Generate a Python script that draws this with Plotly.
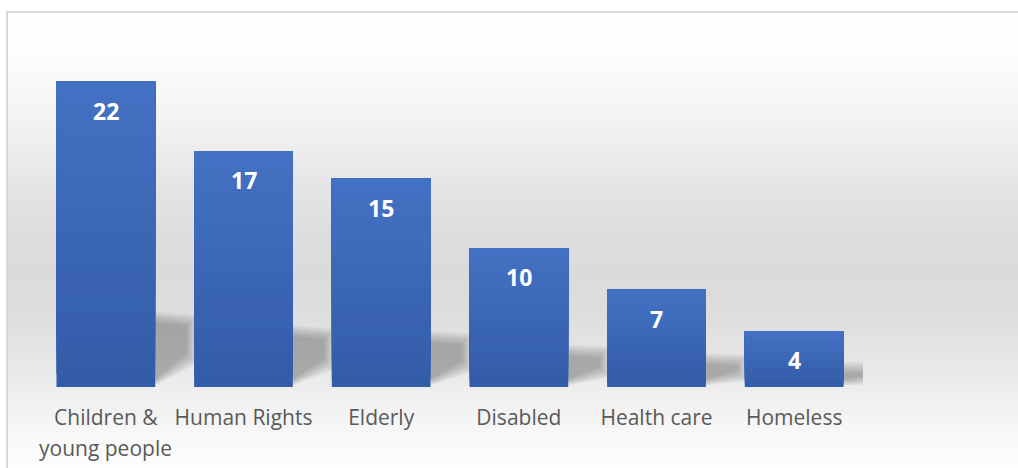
import plotly.graph_objects as go

categories = ["Children &<br>young people", "Human Rights", "Elderly", "Disabled", "Health care", "Homeless"]
values = [22, 17, 15, 10, 7, 4]

W, H = 1018, 468
L, R, T, B = 37, 155, 40, 81
PW, PH = W - L - R, H - T - B
YMAX = 25

def px_x(p):
    return (p - L) / PW

def px_y(p):
    return (H - B - p) / PH

fig = go.Figure()

# bar gradient: overlay traces, each covering from a fraction of the bar up to its top
top_c = (0x44, 0x72, 0xC4)
bot_c = (0x33, 0x5C, 0xA8)
N = 24
xs = list(range(len(categories)))
for k in range(N):
    f = k / N
    c = tuple(round(bot_c[j] + (top_c[j] - bot_c[j]) * f) for j in range(3))
    fig.add_trace(go.Bar(
        x=xs, y=[v * (1 - f) for v in values], base=[v * f for v in values],
        marker=dict(color="rgb(%d,%d,%d)" % c, line=dict(width=0)),
        width=0.717, hoverinfo="skip", showlegend=False,
    ))

shapes = []
# background gradient
stops = [(12, 255), (60, 252), (120, 243), (180, 230), (230, 222), (270, 219), (310, 221),
         (350, 228), (387, 237), (430, 247), (468, 253)]
def gray(py):
    for (a, ga), (b, gb) in zip(stops, stops[1:]):
        if a <= py <= b:
            return ga + (gb - ga) * (py - a) / (b - a)
    return 255
py = 12
while py < H:
    g = round(gray(py + 0.5))
    shapes.append(dict(type="rect", xref="paper", yref="paper", layer="below",
                       x0=px_x(7), x1=px_x(W + 10), y0=px_y(py + 1.6), y1=px_y(py),
                       fillcolor="rgb(%d,%d,%d)" % (g, g, g), line=dict(width=0)))
    py += 1

# soft cast shadows behind bars (stacked translucent layers imitate blur)
w = 0.717 / 2
gap = 1 - 0.717
for i, v in enumerate(values):
    top = 0.6 + 0.2 * v
    for k in range(14):
        d = k * 0.065
        x0 = i + w
        x1 = i + w + gap + 0.02 - k * 0.006
        path = "M %f,%f L %f,%f L %f,%f L %f,%f Z" % (
            x0, top + 0.45 - d,
            x1, top * 0.95 + 0.45 - d,
            x1, top * 0.42 - 0.45 + d,
            x0, 0.1 + d * 0.55)
        shapes.append(dict(type="path", xref="x", yref="y", layer="below", path=path,
                           fillcolor="rgba(90,90,90,0.037)", line=dict(width=0)))

# border
shapes.append(dict(type="rect", xref="paper", yref="paper", layer="above",
                   x0=px_x(7), x1=px_x(W + 10), y0=px_y(H + 10), y1=px_y(12),
                   fillcolor="rgba(0,0,0,0)", line=dict(color="#d9d9d9", width=2)))

annotations = []
for i, v in enumerate(values):
    annotations.append(dict(x=i, y=v, xref="x", yref="y", text="<b>%d</b>" % v,
                            showarrow=False, yanchor="middle", yshift=-29,
                            font=dict(family="Open Sans", size=23, color="white")))

# category labels: first line as tick label, further lines as annotations (wider line spacing)
lab_font = dict(family="Open Sans", size=21, color="#595959")
first_lines = []
for i, c in enumerate(categories):
    parts = c.split("<br>")
    first_lines.append(parts[0])
    for j, extra in enumerate(parts[1:], start=1):
        annotations.append(dict(x=i, y=0, xref="x", yref="y", text=extra, showarrow=False,
                                yanchor="middle", yshift=-(417 - 387) - 31 * j, font=lab_font))

fig.update_layout(
    width=W, height=H, margin=dict(l=L, r=R, t=T, b=B, autoexpand=False),
    barmode="overlay", bargap=0.283,
    paper_bgcolor="white", plot_bgcolor="rgba(0,0,0,0)",
    shapes=shapes, annotations=annotations, showlegend=False,
    xaxis=dict(range=[-0.5, 5.5], tickvals=xs, ticktext=first_lines, showgrid=False,
               zeroline=False, showline=False, ticks="outside", ticklen=12,
               tickcolor="rgba(0,0,0,0)", automargin=False, tickfont=lab_font),
    yaxis=dict(range=[0, YMAX], visible=False, showgrid=False, zeroline=False, automargin=False),
)

fig.write_html("out.html")
